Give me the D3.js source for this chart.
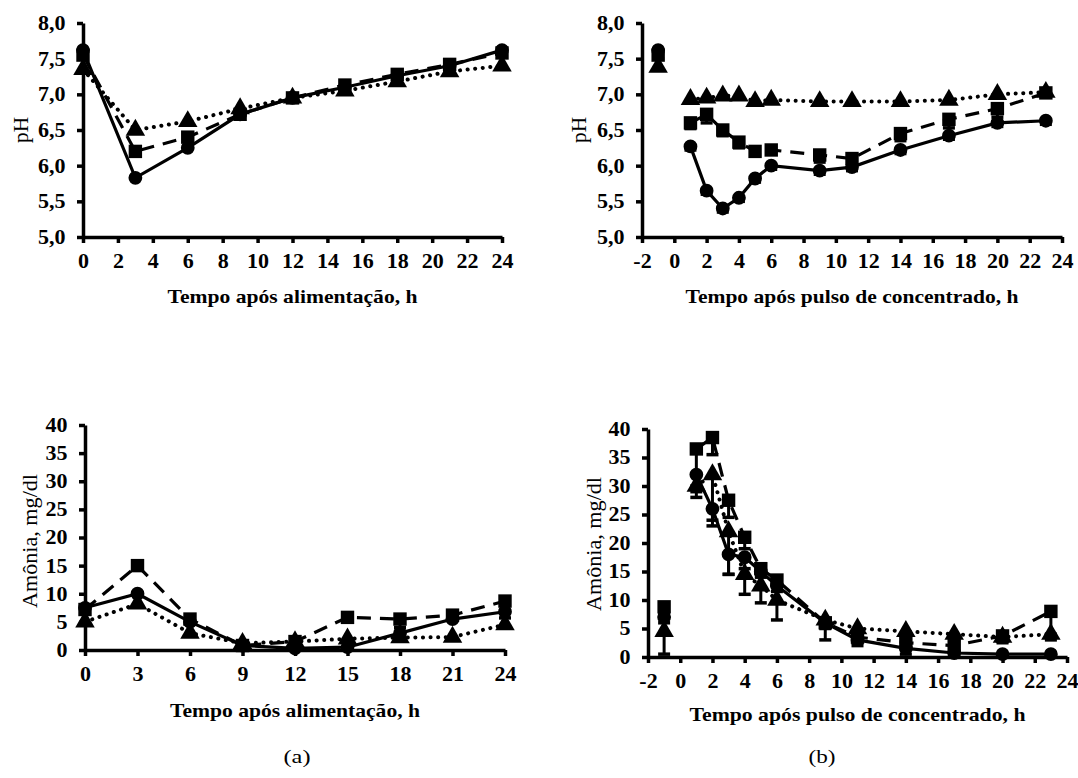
<!DOCTYPE html>
<html>
<head>
<meta charset="utf-8">
<script src="https://cdn.jsdelivr.net/npm/d3@7"></script>
<style>
  body { margin: 0; background: #fff; }
  svg text { font-family: 'Liberation Serif', serif; fill: #000; }
</style>
</head>
<body>
<script>
// time points
var timeFeed = [0, 3, 6, 9, 12, 15, 18, 21, 24];
var timePulse = [-1, 1, 2, 3, 4, 5, 6, 9, 11, 14, 17, 20, 23];

// pH after feeding (a)
var phFeedCircle   = [7.62, 5.83, 6.25, 6.72, 6.95, 7.10, 7.26, 7.40, 7.62];
var phFeedSquare   = [7.55, 6.20, 6.40, 6.72, 6.95, 7.13, 7.28, 7.42, 7.58];
var phFeedTriangle = [7.35, 6.50, 6.62, 6.80, 6.95, 7.05, 7.18, 7.32, 7.40];

// pH after concentrate pulse (b)
var phPulseCircle   = [7.62, 6.27, 5.65, 5.40, 5.55, 5.82, 6.00, 5.93, 5.98, 6.22, 6.42, 6.60, 6.63];
var phPulseSquare   = [7.55, 6.60, 6.72, 6.50, 6.33, 6.20, 6.22, 6.15, 6.10, 6.45, 6.65, 6.80, 7.02];
var phPulseTriangle = [7.38, 6.93, 6.95, 6.98, 6.98, 6.90, 6.92, 6.90, 6.90, 6.90, 6.92, 7.00, 7.03];
var phPulseSquareErr = [0.05, 0.08, 0.12, 0.08, 0.08, 0.05, 0.05, 0.1, 0.1, 0.1, 0.12, 0.12, 0.05];
var phPulseCircleErr = [0.05, 0.05, 0.05, 0.05, 0.05, 0.05, 0.05, 0.05, 0.05, 0.05, 0.05, 0.05, 0.05];

// ammonia after feeding (a)
var nh3FeedCircle   = [7.5, 10.0, 5.0, 0.8, 0.3, 0.5, 3.0, 5.5, 6.8];
var nh3FeedSquare   = [7.2, 15.0, 5.5, 0.8, 1.5, 5.8, 5.5, 6.2, 8.7];
var nh3FeedTriangle = [5.0, 8.2, 3.0, 1.2, 1.5, 2.0, 2.2, 2.3, 4.5];
var nh3FeedSquareErr = [0, 0, 0, 0, 0, 0, 1.5, 0, 3.0];

// ammonia after concentrate pulse (b)
var nh3PulseCircle   = [7.0, 32.0, 26.0, 18.0, 17.5, 15.0, 12.5, 6.0, 3.0, 1.5, 0.7, 0.5, 0.5];
var nh3PulseSquare   = [8.8, 36.5, 38.5, 27.5, 21.0, 15.5, 13.5, 6.0, 3.5, 2.5, 2.0, 3.7, 8.0];
var nh3PulseTriangle = [4.5, 30.0, 32.0, 22.0, 14.5, 12.5, 10.0, 6.5, 5.0, 4.5, 4.0, 3.5, 4.0];
var nh3PulseCircleErr   = [1, 2, 2, 3.5, 2, 1, 1, 1, 1, 1, 0.5, 0.5, 0.5];
var nh3PulseSquareErr   = [1, 7.5, 3, 3, 2, 1, 1, 3, 1, 1, 1, 1, 4];
var nh3PulseTriangleErr = [4, 2, 9, 7.5, 3.5, 3, 3.5, 1, 1.5, 1, 1, 1, 1];

var phTicks = [5, 5.5, 6, 6.5, 7, 7.5, 8];
var nh3Ticks = [0, 5, 10, 15, 20, 25, 30, 35, 40];
var feedTicksA = d3.range(0, 25, 2);
var feedTicksC = d3.range(0, 25, 3);
var pulseTicks = d3.range(-2, 25, 2);

var ptBR = d3.formatLocale({decimal: ",", thousands: ".", grouping: [3], currency: ["R$", ""], minus: "-"});
var fmtPh = ptBR.format(".1f");
var fmtInt = ptBR.format("d");

var serif = "'Liberation Serif', serif";

var svg = d3.select("body").append("svg")
  .attr("width", 1078)
  .attr("height", 778);

function drawPanel(p) {
  var x = d3.scaleLinear().domain(p.xDomain).range([p.left, p.right]);
  var y = d3.scaleLinear().domain(p.yDomain).range([p.bottom, p.top]);
  var g = svg.append("g");

  var styles = {
    circle:   {dash: null, cap: "butt", w: 3.2},
    square:   {dash: "14,9", cap: "butt", w: 3.2},
    triangle: {dash: "0.1,7.5", cap: "round", w: 4}
  };
  var line = d3.line()
    .x(function(d) { return x(d.t); })
    .y(function(d) { return y(d.v); });

  p.series.forEach(function(s) {
    var pts = p.times.map(function(t, i) { return {t: t, v: s.values[i], e: s.err ? s.err[i] : 0}; });
    g.append("path")
      .datum(pts.filter(function(d) { return !p.skipFirst || d.t > 0; }))
      .attr("fill", "none")
      .attr("stroke", "#000")
      .attr("stroke-width", styles[s.type].w)
      .attr("stroke-linecap", styles[s.type].cap)
      .attr("stroke-dasharray", styles[s.type].dash)
      .attr("d", line);
    s.pts = pts;
  });

  // error bars (minus side)
  p.series.forEach(function(s) {
    var eb = g.selectAll(null).data(s.pts.filter(function(d) { return d.e > 0; })).enter().append("g");
    eb.append("line")
      .attr("x1", function(d) { return x(d.t); })
      .attr("x2", function(d) { return x(d.t); })
      .attr("y1", function(d) { return y(d.v); })
      .attr("y2", function(d) { return y(Math.max(p.yDomain[0], d.v - d.e)); })
      .attr("stroke", "#000").attr("stroke-width", 3);
    eb.append("line")
      .attr("x1", function(d) { return x(d.t) - 6; })
      .attr("x2", function(d) { return x(d.t) + 6; })
      .attr("y1", function(d) { return y(Math.max(p.yDomain[0], d.v - d.e)); })
      .attr("y2", function(d) { return y(Math.max(p.yDomain[0], d.v - d.e)); })
      .attr("stroke", "#000").attr("stroke-width", 3.5);
  });

  var sym = {
    circle: d3.symbol().type(d3.symbolCircle).size(150),
    square: d3.symbol().type(d3.symbolSquare).size(180),
    triangle: d3.symbol().type(d3.symbolTriangle).size(165)
  };
  p.series.forEach(function(s) {
    g.selectAll(null).data(s.pts).enter().append("path")
      .attr("transform", function(d) { return "translate(" + x(d.t) + "," + y(d.v) + ")"; })
      .attr("d", sym[s.type])
      .attr("fill", "#000");
  });

  // axes
  var xAxis = d3.axisBottom(x).tickValues(p.xTicks).tickSize(6).tickSizeOuter(0).tickPadding(11)
    .tickFormat(fmtInt);
  var yAxis = d3.axisLeft(y).tickValues(p.yTicks).tickSize(6).tickSizeOuter(0).tickPadding(10)
    .tickFormat(p.yFormat || fmtInt);
  var gx = g.append("g").attr("transform", "translate(0," + p.bottom + ")").call(xAxis);
  var gy = g.append("g").attr("transform", "translate(" + p.left + ",0)").call(yAxis);
  [gx, gy].forEach(function(a) {
    a.attr("font-family", serif).attr("font-size", null);
    a.select(".domain").attr("stroke-width", 3.5);
    a.selectAll(".tick line").attr("stroke-width", 3.5);
    a.selectAll(".tick text")
      .attr("fill", "#000")
      .attr("transform", "scale(1.1,1)")
      .style("font-family", serif)
      .style("font-size", "20px")
      .style("font-weight", "bold");
  });

  g.append("text")
    .attr("x", (p.left + p.right) / 2)
    .attr("y", p.xTitleY)
    .attr("text-anchor", "middle")
    .attr("textLength", p.xTitleLen)
    .attr("lengthAdjust", "spacingAndGlyphs")
    .style("font-family", serif)
    .style("font-size", "19px")
    .style("font-weight", "bold")
    .text(p.xTitle);

  g.append("text")
    .attr("transform", "translate(" + p.yTitleX + "," + p.yTitleY + ") rotate(-90)")
    .attr("text-anchor", "middle")
    .attr("textLength", p.yTitleLen)
    .attr("lengthAdjust", "spacingAndGlyphs")
    .style("font-family", serif)
    .style("font-size", "20px")
    .text(p.yTitle);
}

drawPanel({
  left: 83, right: 502, top: 23, bottom: 237,
  xDomain: [0, 24], yDomain: [5, 8], xTicks: feedTicksA, yTicks: phTicks, yFormat: fmtPh,
  times: timeFeed,
  series: [
    {type: "triangle", values: phFeedTriangle},
    {type: "square", values: phFeedSquare},
    {type: "circle", values: phFeedCircle}
  ],
  xTitle: "Tempo após alimentação, h", xTitleY: 303, xTitleLen: 250,
  yTitle: "pH", yTitleX: 28, yTitleY: 130, yTitleLen: 26
});

drawPanel({
  left: 642, right: 1062, top: 23, bottom: 237, skipFirst: true,
  xDomain: [-2, 24], yDomain: [5, 8], xTicks: pulseTicks, yTicks: phTicks, yFormat: fmtPh,
  times: timePulse,
  series: [
    {type: "triangle", values: phPulseTriangle},
    {type: "square", values: phPulseSquare, err: phPulseSquareErr},
    {type: "circle", values: phPulseCircle, err: phPulseCircleErr}
  ],
  xTitle: "Tempo após pulso de concentrado, h", xTitleY: 303, xTitleLen: 333,
  yTitle: "pH", yTitleX: 586, yTitleY: 130, yTitleLen: 26
});

drawPanel({
  left: 85, right: 505, top: 425, bottom: 650,
  xDomain: [0, 24], yDomain: [0, 40], xTicks: feedTicksC, yTicks: nh3Ticks,
  times: timeFeed,
  series: [
    {type: "triangle", values: nh3FeedTriangle},
    {type: "square", values: nh3FeedSquare, err: nh3FeedSquareErr},
    {type: "circle", values: nh3FeedCircle}
  ],
  xTitle: "Tempo após alimentação, h", xTitleY: 717, xTitleLen: 250,
  yTitle: "Amônia, mg/dl", yTitleX: 37, yTitleY: 541, yTitleLen: 134
});

drawPanel({
  left: 648, right: 1067, top: 429, bottom: 657, skipFirst: true,
  xDomain: [-2, 24], yDomain: [0, 40], xTicks: pulseTicks, yTicks: nh3Ticks,
  times: timePulse,
  series: [
    {type: "triangle", values: nh3PulseTriangle, err: nh3PulseTriangleErr},
    {type: "square", values: nh3PulseSquare, err: nh3PulseSquareErr},
    {type: "circle", values: nh3PulseCircle, err: nh3PulseCircleErr}
  ],
  xTitle: "Tempo após pulso de concentrado, h", xTitleY: 721, xTitleLen: 336,
  yTitle: "Amônia, mg/dl", yTitleX: 601, yTitleY: 544, yTitleLen: 134
});

svg.append("text").attr("x", 297).attr("y", 763).attr("text-anchor", "middle")
  .attr("textLength", 27).attr("lengthAdjust", "spacingAndGlyphs")
  .style("font-family", serif)
  .style("font-size", "18px").text("(a)");
svg.append("text").attr("x", 822).attr("y", 763).attr("text-anchor", "middle")
  .attr("textLength", 27).attr("lengthAdjust", "spacingAndGlyphs")
  .style("font-family", serif)
  .style("font-size", "18px").text("(b)");
</script>
</body>
</html>
